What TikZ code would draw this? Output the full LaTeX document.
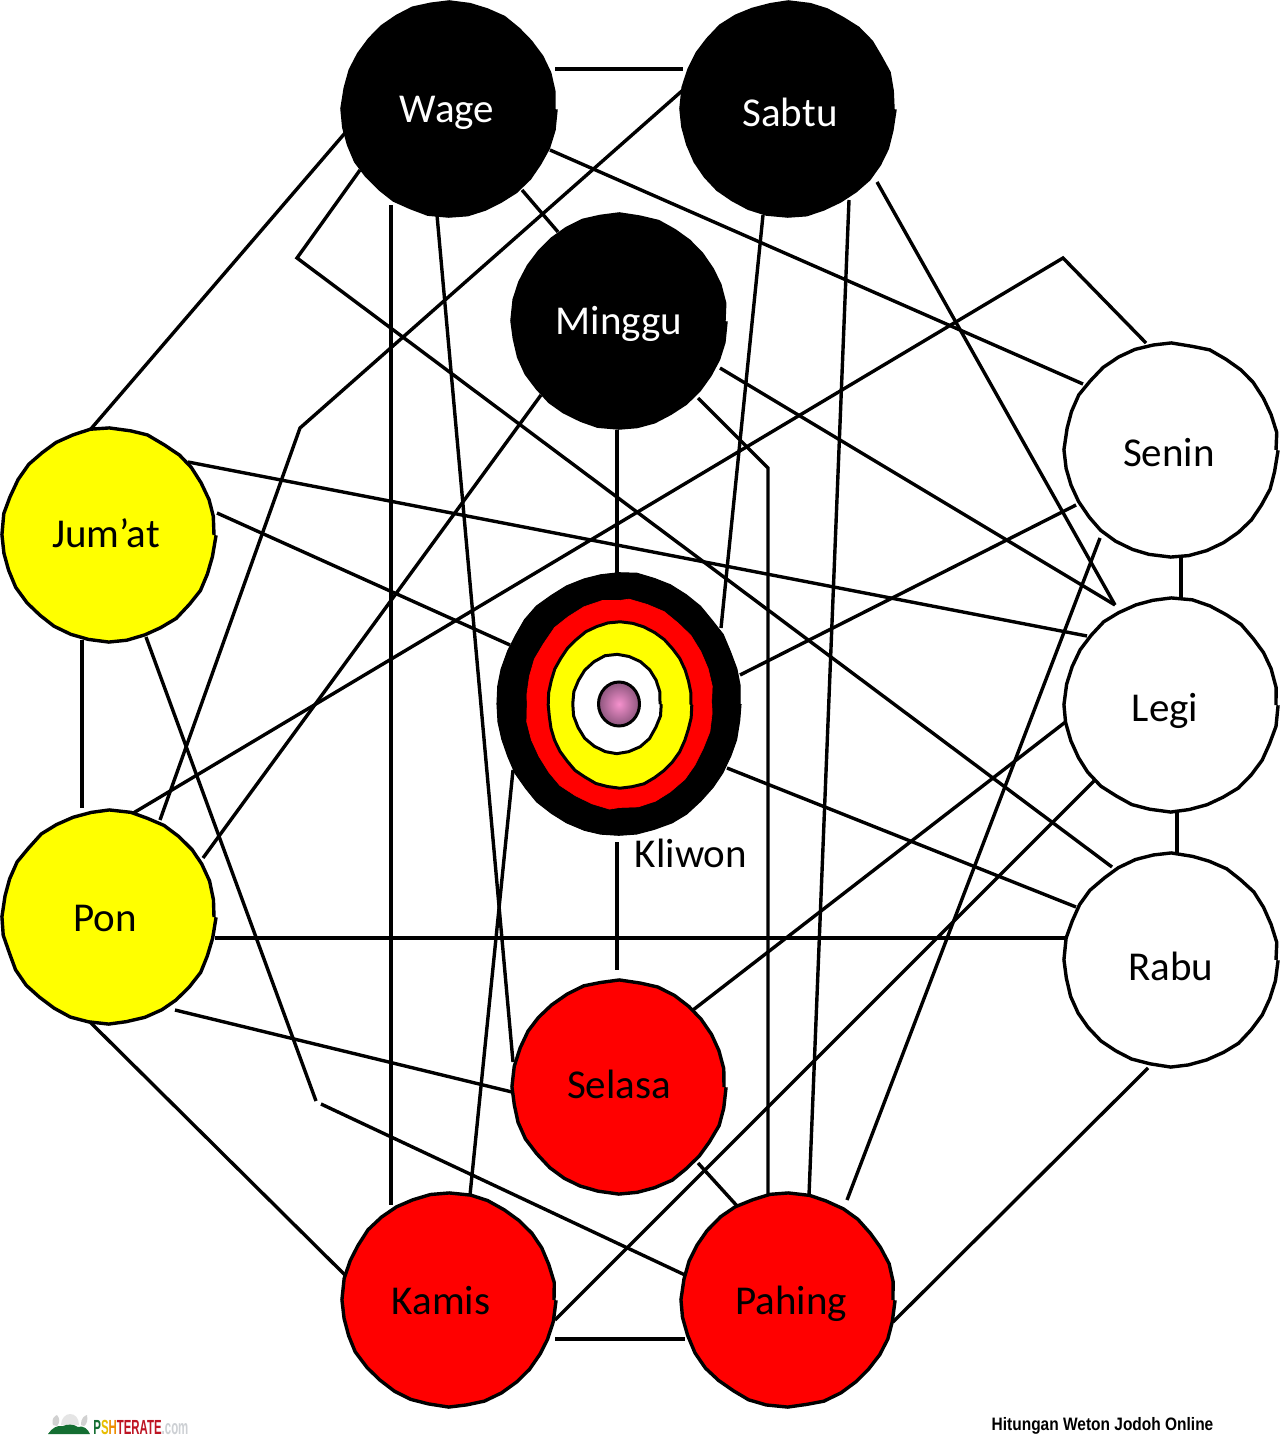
\documentclass[tikz,border=0pt]{standalone}
\usepackage{fontspec}
\setmainfont{Carlito}
\newfontfamily\footf[FakeStretch=0.86]{Liberation Sans}
\newfontfamily\logof[FakeStretch=0.56]{Liberation Sans}
\usetikzlibrary{calc,decorations.pathmorphing,shapes.geometric}
\definecolor{rd}{RGB}{255,0,0}
\definecolor{yl}{RGB}{255,255,0}
\definecolor{logoG}{RGB}{20,110,50}
\definecolor{logoS}{RGB}{232,190,0}
\definecolor{logoH}{RGB}{238,140,0}
\definecolor{logoT}{RGB}{190,20,35}
\definecolor{logoC}{RGB}{205,208,212}
\pgfmathsetseed{7}
\tikzset{
  x=0.5pt,y=-0.5pt,
  wobble/.style={decorate,decoration={random steps,segment length=9pt,amplitude=0.4pt}},
  disc/.style={circle,draw=black,line width=1.7pt,minimum size=105pt,inner sep=0pt,wobble},
  lbl/.style={font=\fontsize{20.5}{24}\selectfont,inner sep=0pt,text height=18pt,text depth=4pt},
  link/.style={draw=black,line width=1.7pt,line join=miter},
  ring/.style={ellipse,inner sep=0pt,wobble},
  smallring/.style={ellipse,inner sep=0pt,decorate,decoration={random steps,segment length=6pt,amplitude=0.25pt}}
}
\begin{document}
\begin{tikzpicture}
\useasboundingbox (0,0) rectangle (1280,1449);
\fill[white] (0,0) rectangle (1280,1449);
% connectors first; the discs are drawn over them
\coordinate (wage) at (449,109);
\coordinate (sabtu) at (788,109);
\coordinate (minggu) at (619,321);
\coordinate (jumat) at (109,535);
\coordinate (pon) at (109,917);
\coordinate (senin) at (1171,450);
\coordinate (legi) at (1171,705);
\coordinate (rabu) at (1171,960);
\coordinate (selasa) at (619,1087);
\coordinate (kamis) at (449,1300);
\coordinate (pahing) at (788,1300);
\coordinate (kliwon) at (619,704);
\coordinate (bendA) at (297,258);
\coordinate (bendB) at (300,428);
\coordinate (bendC) at (768,468);
\coordinate (bendD) at (1063,258);
\coordinate (bendE) at (316,1101);
\coordinate (bendF) at (321,1104);
\newcommand{\lk}[4]{\draw[link] ($(#1)+(#2)$) -- ($(#3)+(#4)$);}
\lk{wage}{106,-40}{sabtu}{-105,-40}
\lk{wage}{-104,24}{jumat}{-19,-105}
\lk{wage}{73,81}{minggu}{-61,-89}
\draw[link] ($(wage)+(-89,61)$) -- (bendA) -- ($(rabu)+(-59,-93)$);
\lk{wage}{-58,96}{kamis}{-58,-95}
\lk{wage}{-12,106}{selasa}{-106,-25}
\lk{wage}{101,41}{senin}{-88,-66}
\draw[link] ($(sabtu)+(-105,-19)$) -- (bendB) -- ($(pon)+(51,-97)$);
\lk{sabtu}{-25,106}{kliwon}{102,-76}
\lk{sabtu}{61,91}{pahing}{21,-105}
\lk{sabtu}{89,73}{legi}{-56,-100}
\lk{minggu}{-78,74}{pon}{94,-59}
\lk{minggu}{-2,109}{kliwon}{-2,-129}
\draw[link] ($(minggu)+(79,77)$) -- (bendC) -- ($(pahing)+(-20,-105)$);
\lk{minggu}{101,47}{legi}{-56,-100}
\draw[link] ($(senin)+(-25,-107)$) -- (bendD) -- ($(pon)+(21,-102)$);
\lk{senin}{-95,55}{kliwon}{121,-29}
\lk{senin}{10,108}{legi}{10,-105}
\lk{senin}{-71,88}{pahing}{59,-100}
\lk{legi}{-84,-69}{jumat}{79,-73}
\lk{legi}{-103,15}{selasa}{74,-77}
\lk{legi}{-71,70}{kamis}{106,20}
\lk{legi}{6,107}{rabu}{6,-105}
\lk{rabu}{-95,-53}{kliwon}{108,64}
\lk{rabu}{-106,-22}{pon}{106,21}
\lk{rabu}{-23,108}{pahing}{105,22}
\lk{jumat}{108,-22}{kliwon}{-109,-59}
\lk{jumat}{-27,105}{pon}{-27,-109}
\draw[link] ($(jumat)+(37,102)$) -- (bendE);
\draw[link] (bendF) -- ($(pahing)+(-103,-25)$);
\lk{pon}{66,93}{selasa}{-107,5}
\lk{pon}{-19,105}{kamis}{-104,-25}
\lk{kliwon}{-2,138}{selasa}{-2,-117}
\lk{kliwon}{-106,66}{kamis}{21,-105}
\lk{selasa}{79,76}{pahing}{-50,-93}
\lk{kamis}{106,39}{pahing}{-103,39}
% discs
\node[disc,fill=black,label={[lbl,text=white,xshift=-1pt]center:Wage}] (wagen) at (wage) {};
\node[disc,fill=black,label={[lbl,text=white,xshift=1pt,yshift=-2pt]center:Sabtu}] (sabtun) at (sabtu) {};
\node[disc,fill=black,label={[lbl,text=white]center:Minggu}] (minggun) at (minggu) {};
\node[disc,fill=yl,label={[lbl,xshift=-1.5pt,yshift=1pt]center:Jum’at}] (jumatn) at (jumat) {};
\node[disc,fill=yl,label={[lbl,xshift=-2pt]center:Pon}] (ponn) at (pon) {};
\node[disc,fill=white,label={[lbl,xshift=-1pt,yshift=-1pt]center:Senin}] (seninn) at (senin) {};
\node[disc,fill=white,label={[lbl,xshift=-3pt,yshift=-1pt]center:Legi}] (legin) at (legi) {};
\node[disc,fill=white,label={[lbl,yshift=-3pt]center:Rabu}] (rabun) at (rabu) {};
\node[disc,fill=rd,label={[lbl,yshift=1.5pt]center:Selasa}] (selasan) at (selasa) {};
\node[disc,fill=rd,label={[lbl,xshift=-4pt]center:Kamis}] (kamisn) at (kamis) {};
\node[disc,fill=rd,label={[lbl,xshift=1.5pt]center:Pahing}] (pahingn) at (pahing) {};
% Kliwon rings
\node[ring,fill=black,draw=black,line width=0.5pt,minimum width=121pt,minimum height=130pt] (kliwonA) at (kliwon) {};
\node[ring,fill=rd,draw=rd,line width=0.3pt,minimum width=92pt,minimum height=103pt] (kliwonB) at (619.5,704) {};
\node[smallring,fill=yl,draw=black,line width=1.5pt,minimum width=71pt,minimum height=82pt] (kliwonC) at (620,705) {};
\node[smallring,fill=white,draw=black,line width=1.5pt,minimum width=43pt,minimum height=48pt] (kliwonD) at (617,704) {};
\node[ellipse,inner sep=0pt,draw=black,line width=1.5pt,inner color={rgb,255:red,245;green,145;blue,205},outer color={rgb,255:red,140;green,85;blue,125},minimum width=20.5pt,minimum height=22pt] (kliwonE) at (619,704) {};
\node[lbl] (kliwonT) at (691,853) {Kliwon};
% footer
\node[inner sep=0pt,font=\footf\bfseries\fontsize{9}{10}\selectfont] (foot) at (1102.5,1426) {Hitungan Weton Jodoh Online};
% logo: lotus flowers over leaves
\fill[black!18] (53,1425) .. controls (51,1418) and (55,1416) .. (57,1415) .. controls (60,1418) and (60,1423) .. (57,1426) -- cycle;
\fill[black!18] (81,1425) .. controls (81,1418) and (84,1416) .. (87,1415) .. controls (88,1420) and (87,1424) .. (84,1426) -- cycle;
\fill[black!10] (61,1425) .. controls (61,1418) and (66,1414) .. (70,1414) .. controls (75,1414) and (79,1418) .. (79,1425) -- cycle;
\fill[logoG] (48,1434) .. controls (52,1428) and (57,1425) .. (63,1426) .. controls (67,1424) and (74,1424) .. (78,1427) .. controls (83,1425) and (88,1429) .. (90,1434) -- cycle;
\node[inner sep=0pt,anchor=west,font=\logof\bfseries\fontsize{10.2}{11}\selectfont] (logo) at (93,1427)
 {\textcolor{logoG}{P}\textcolor{logoS}{S}\textcolor{logoH}{H}\textcolor{logoT}{TERATE}\textcolor{logoC}{.com}};
\end{tikzpicture}
\end{document}
